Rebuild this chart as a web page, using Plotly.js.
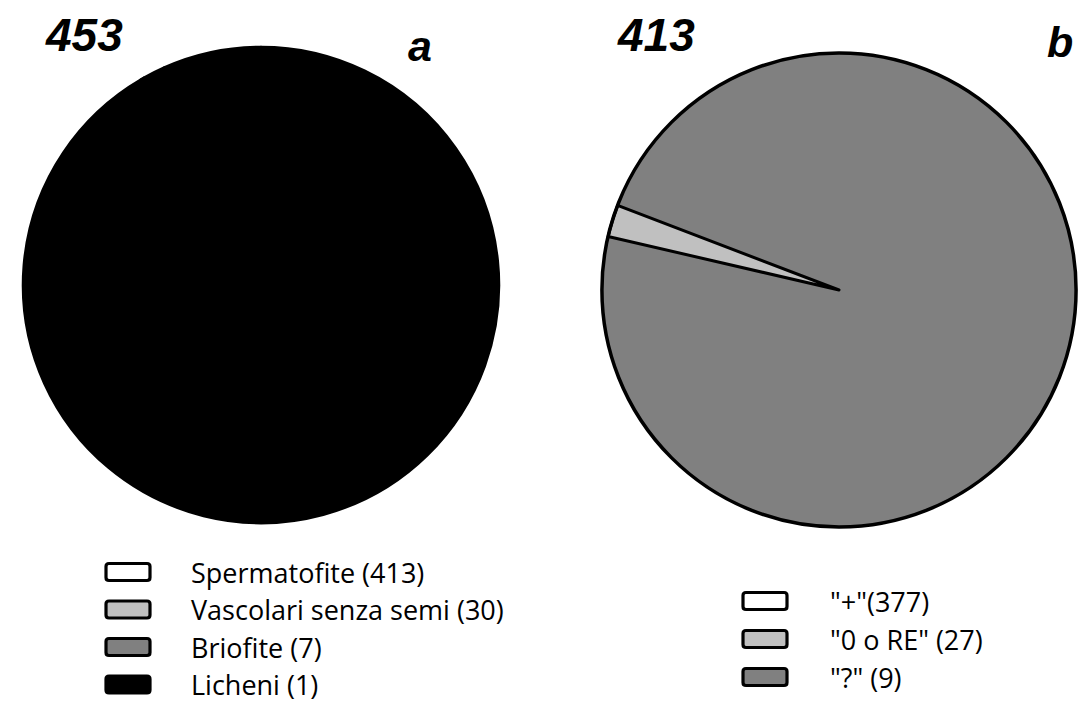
<!DOCTYPE html>
<html>
<head>
<meta charset="utf-8">
<script src="https://cdn.plot.ly/plotly-3.0.1.min.js"></script>
<style>html,body{margin:0;padding:0;background:#fff;}#chart{width:1083px;height:704px;}</style>
</head>
<body>
<div id="chart"></div>
<script>
// ---- data ----
var labelsA = ['Spermatofite', 'Vascolari senza semi', 'Briofite', 'Licheni'];
var valuesA = [413, 30, 7, 1];
var legendTextA = ['Spermatofite (413)', 'Vascolari senza semi (30)', 'Briofite (7)', 'Licheni (1)'];
var totalA = '453';
var panelA = 'a';

var labelsB = ['"+"', '"0 o RE"', '"?"'];
var valuesB = [377, 27, 9];
var legendTextB = ['"+"(377)', '"0 o RE" (27)', '"?" (9)'];
var totalB = '413';
var panelB = 'b';

// ---- styles ----
var W = 1083, H = 704;
var legendFillA = ['#ffffff', '#c0c0c0', '#808080', '#000000'];
var legendFillB = ['#ffffff', '#c0c0c0', '#808080'];
// colours as they appear drawn in the pies
var sliceFillA = ['#000000', '#000000', '#000000', '#000000'];
var sliceFillB = ['#808080', '#808080', '#c0c0c0'];
var sliceLineColB = ['#808080', '#808080', '#000000'];
var sliceLineWB = [1.5, 1.5, 3];

function px(x) { return x / W; }
function py(y) { return 1 - y / H; }

function domainFor(cx, cy, r) {
  return { x: [px(cx - r), px(cx + r)], y: [py(cy + r), py(cy - r)] };
}
var domA = domainFor(261, 285, 238);
var domB = domainFor(839, 290, 237);

var sumB = valuesB.reduce(function (a, b) { return a + b; }, 0);

var traces = [
  {
    type: 'pie', labels: labelsA, values: valuesA, sort: false,
    domain: domA, textinfo: 'none', hoverinfo: 'label+value',
    marker: { colors: sliceFillA, line: { color: '#000000', width: 2.5 } },
    showlegend: false
  },
  {
    type: 'pie', labels: labelsB, values: valuesB, sort: false,
    direction: 'clockwise', rotation: -69.1,
    domain: domB, textinfo: 'none', hoverinfo: 'label+value',
    marker: { colors: sliceFillB, line: { color: sliceLineColB, width: sliceLineWB } },
    showlegend: false
  },
  {
    // outer outline of pie b
    type: 'pie', labels: ['totale'], values: [sumB], sort: false,
    domain: domB, textinfo: 'none', hoverinfo: 'skip',
    marker: { colors: ['rgba(0,0,0,0)'], line: { color: '#000000', width: 3.5 } },
    showlegend: false
  }
];

var shapes = [];
var annotations = [];

function roundRectPath(x0, y0, x1, y1, r) {
  function P(x, y) { return px(x).toFixed(5) + ',' + py(y).toFixed(5); }
  return 'M' + P(x0 + r, y0) + ' L' + P(x1 - r, y0) + ' Q' + P(x1, y0) + ' ' + P(x1, y0 + r) +
    ' L' + P(x1, y1 - r) + ' Q' + P(x1, y1) + ' ' + P(x1 - r, y1) +
    ' L' + P(x0 + r, y1) + ' Q' + P(x0, y1) + ' ' + P(x0, y1 - r) +
    ' L' + P(x0, y0 + r) + ' Q' + P(x0, y0) + ' ' + P(x0 + r, y0) + ' Z';
}

function addLegend(texts, fills, rectX, textX, y0, pitch, font) {
  for (var i = 0; i < texts.length; i++) {
    var cy = y0 + i * pitch;
    shapes.push({
      type: 'path', xref: 'paper', yref: 'paper',
      path: roundRectPath(rectX, cy - 8.5, rectX + 44, cy + 8.5, 3),
      fillcolor: fills[i], line: { color: '#000000', width: 3.2 }
    });
    annotations.push({
      xref: 'paper', yref: 'paper', x: px(textX), y: py(cy),
      xanchor: 'left', yanchor: 'middle', showarrow: false, borderpad: 0,
      text: texts[i], font: font
    });
  }
}
var legFont = { family: 'Open Sans, sans-serif', size: 27, color: '#000000' };
addLegend(legendTextA, legendFillA, 106, 190, 572, 37.5, legFont);
addLegend(legendTextB, legendFillB, 743, 829, 601, 38, legFont);

var bigFont = { family: 'Liberation Sans, Arial, sans-serif', size: 46, color: '#000000', weight: 'bold', style: 'italic' };
var letFont = { family: 'Liberation Sans, Arial, sans-serif', size: 43, color: '#000000', weight: 'bold', style: 'italic' };
annotations.push({ xref: 'paper', yref: 'paper', x: px(84), y: py(35), xanchor: 'center', yanchor: 'middle', showarrow: false, text: totalA, font: bigFont });
annotations.push({ xref: 'paper', yref: 'paper', x: px(420), y: py(46), xanchor: 'center', yanchor: 'middle', showarrow: false, text: panelA, font: letFont });
annotations.push({ xref: 'paper', yref: 'paper', x: px(656), y: py(35), xanchor: 'center', yanchor: 'middle', showarrow: false, text: totalB, font: bigFont });
annotations.push({ xref: 'paper', yref: 'paper', x: px(1060), y: py(42), xanchor: 'center', yanchor: 'middle', showarrow: false, text: panelB, font: letFont });

var layout = {
  width: W, height: H,
  margin: { l: 0, r: 0, t: 0, b: 0, pad: 0 },
  paper_bgcolor: '#ffffff', plot_bgcolor: '#ffffff',
  showlegend: false,
  shapes: shapes,
  annotations: annotations
};

Plotly.newPlot('chart', traces, layout, { displayModeBar: false, staticPlot: true });
</script>
</body>
</html>
